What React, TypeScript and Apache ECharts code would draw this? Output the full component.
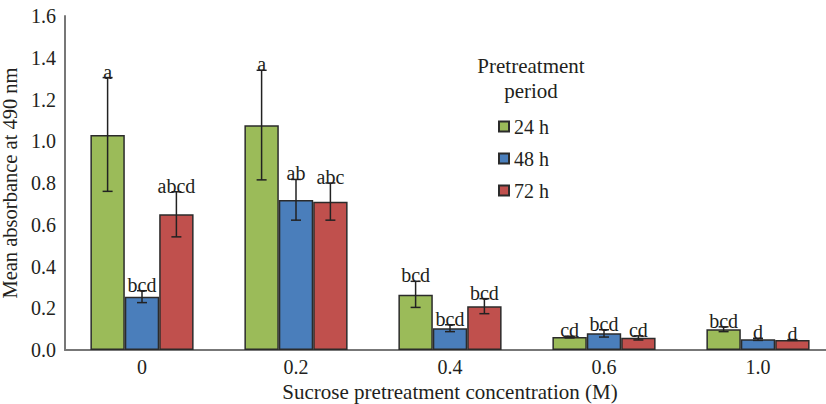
import React, { useEffect, useRef } from "react";
import * as echarts from "echarts";

const categories = ["0", "0.2", "0.4", "0.6", "1.0"];
const seriesNames = ["24 h", "48 h", "72 h"];
const colors = ["#9BBB59", "#4A7EBB", "#C0504D"];

const values24 = [1.03, 1.077, 0.265, 0.062, 0.1];
const values48 = [0.255, 0.718, 0.104, 0.08, 0.051];
const values72 = [0.65, 0.71, 0.209, 0.059, 0.048];

const errLow24 = [0.76, 0.815, 0.204, 0.058, 0.088];
const errHigh24 = [1.305, 1.34, 0.329, 0.066, 0.111];
const errLow48 = [0.227, 0.622, 0.088, 0.062, 0.046];
const errHigh48 = [0.284, 0.817, 0.121, 0.097, 0.056];
const errLow72 = [0.542, 0.622, 0.174, 0.048, 0.046];
const errHigh72 = [0.758, 0.8, 0.246, 0.068, 0.05];

const letters24 = ["a", "a", "bcd", "cd", "bcd"];
const letters48 = ["bcd", "ab", "bcd", "bcd", "d"];
const letters72 = ["abcd", "abc", "bcd", "cd", "d"];

const FONT = "'Liberation Serif', 'DejaVu Serif', serif";
const TEXT = "#231f20";

export default function App() {
  const ref = useRef<HTMLDivElement>(null);
  useEffect(() => {
    if (!ref.current) return;
    const chart = echarts.init(ref.current, undefined, { renderer: "svg" });
    const values = [values24, values48, values72];
    const lows = [errLow24, errLow48, errLow72];
    const highs = [errHigh24, errHigh48, errHigh72];
    const letters = [letters24, letters48, letters72];
    const gapRatio = 0.33;

    const barSeries = seriesNames.map((name, k) => ({
      name,
      type: "bar",
      data: values[k],
      barGap: "0%",
      barCategoryGap: "33%",
      itemStyle: { color: colors[k], borderColor: "#2b2b2b", borderWidth: 1.5 },
      z: 2,
    }));

    const errSeries = seriesNames.map((name, k) => ({
      name: "err" + name,
      type: "custom",
      z: 5,
      clip: false,
      data: categories.map((_, i) => [i, lows[k][i], highs[k][i]]),
      renderItem: (params: any, api: any) => {
        const idx = api.value(0);
        const cx0 = api.coord([idx, 0])[0];
        const band = api.size([1, 0])[0];
        const barW = (band * (1 - gapRatio)) / 3;
        const cx = cx0 + (k - 1) * barW;
        const yHi = api.coord([idx, api.value(2)])[1];
        const yLo = api.coord([idx, api.value(1)])[1];
        const cap = 5;
        const st = { stroke: "#222", lineWidth: 1.5 };
        return {
          type: "group",
          children: [
            { type: "line", shape: { x1: cx, y1: yHi, x2: cx, y2: yLo }, style: st },
            { type: "line", shape: { x1: cx - cap, y1: yHi, x2: cx + cap, y2: yHi }, style: st },
            { type: "line", shape: { x1: cx - cap, y1: yLo, x2: cx + cap, y2: yLo }, style: st },
            {
              type: "text",
              x: cx,
              y: yHi + 4,
              style: {
                text: letters[k][params.dataIndex],
                fill: TEXT,
                fontFamily: FONT,
                fontSize: 20,
                align: "center",
                verticalAlign: "bottom",
              },
            },
          ],
        };
      },
    }));

    chart.setOption({
      animation: false,
      textStyle: { fontFamily: FONT },
      grid: { left: 65, right: -9, top: 16, bottom: 54, containLabel: false, outerBoundsMode: "none" },
      legend: {
        data: seriesNames,
        orient: "vertical",
        left: 493,
        top: 111,
        itemWidth: 10,
        itemHeight: 10,
        itemGap: 11,
        icon: "rect",
        textStyle: { fontFamily: FONT, fontSize: 20, color: TEXT, lineHeight: 21 },
      },
      graphic: [
        {
          type: "text",
          x: 531,
          y: 53,
          style: {
            text: "Pretreatment\nperiod",
            fill: TEXT,
            fontFamily: FONT,
            fontSize: 21,
            lineHeight: 25,
            align: "center",
          },
        },
      ],
      xAxis: {
        type: "category",
        data: categories,
        axisLine: { lineStyle: { color: "#777", width: 2 } },
        axisTick: { show: false },
        axisLabel: { color: TEXT, fontSize: 20, fontFamily: FONT, margin: 7 },
        name: "Sucrose pretreatment concentration (M)",
        nameLocation: "middle",
        nameGap: 29,
        nameTextStyle: { color: TEXT, fontSize: 21, fontFamily: FONT },
      },
      yAxis: {
        type: "value",
        min: 0,
        max: 1.6,
        interval: 0.2,
        axisLine: { show: true, lineStyle: { color: "#777", width: 2 } },
        axisTick: { show: false },
        splitLine: { show: false },
        axisLabel: {
          color: TEXT,
          fontSize: 20,
          fontFamily: FONT,
          margin: 9,
          formatter: (v: number) => v.toFixed(1),
        },
        name: "Mean absorbance at 490 nm",
        nameLocation: "middle",
        nameGap: 38,
        nameTextStyle: { color: TEXT, fontSize: 20.5, fontFamily: FONT },
      },
      series: [...barSeries, ...errSeries],
    });
    return () => chart.dispose();
  }, []);
  return <div ref={ref} style={{ width: 826, height: 404, position: "absolute", left: 0, top: 0 }} />;
}
